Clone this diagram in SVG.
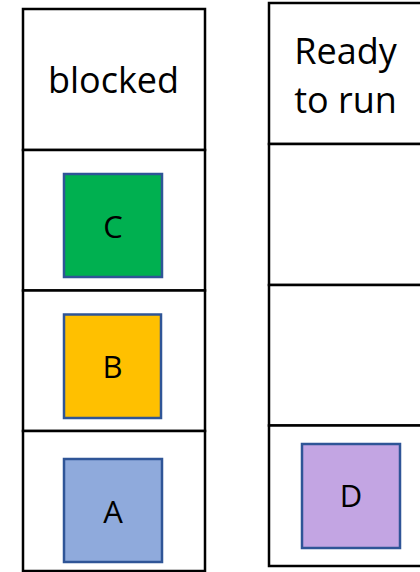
<svg xmlns="http://www.w3.org/2000/svg" width="420" height="572" viewBox="0 0 420 572">
  <style>
    .cell { fill: #ffffff; stroke: #000000; stroke-width: 2.5; }
    .box { stroke: #2F5597; stroke-width: 2.5; }
    .head { font-family: "Open Sans", "DejaVu Sans", sans-serif; font-size: 36px; fill: #000000; text-anchor: middle; }
    .lbl { font-family: "Open Sans", "DejaVu Sans", sans-serif; font-size: 31px; fill: #000000; text-anchor: middle; }
  </style>
  <rect width="420" height="572" fill="#ffffff"/>
  <g id="blocked-column">
    <rect class="cell" x="23" y="9" width="182" height="141"/>
    <rect class="cell" x="23" y="150" width="182" height="140.5"/>
    <rect class="cell" x="23" y="290.5" width="182" height="140.5"/>
    <rect class="cell" x="23" y="431" width="182" height="140"/>
    <text class="head" x="113.5" y="92.5">blocked</text>
  </g>
  <g id="ready-column">
    <rect class="cell" x="269" y="3" width="182" height="141"/>
    <rect class="cell" x="269" y="144" width="182" height="141"/>
    <rect class="cell" x="269" y="285" width="182" height="140.5"/>
    <rect class="cell" x="269" y="425.5" width="182" height="140.5"/>
    <text class="head" x="345.5" y="64">Ready</text>
    <text class="head" x="345.5" y="112.5">to run</text>
  </g>
  <g id="node-C">
    <rect class="box" x="64" y="174" width="98" height="103" fill="#00B050"/>
    <text class="lbl" x="113" y="237.5">C</text>
  </g>
  <g id="node-B">
    <rect class="box" x="64" y="314.5" width="97" height="103.5" fill="#FFC000"/>
    <text class="lbl" x="112.5" y="378">B</text>
  </g>
  <g id="node-A">
    <rect class="box" x="64" y="459" width="98" height="103" fill="#8FAADC"/>
    <text class="lbl" x="113" y="523">A</text>
  </g>
  <g id="node-D">
    <rect class="box" x="302" y="444" width="98" height="104" fill="#C3A5E3"/>
    <text class="lbl" x="351" y="507">D</text>
  </g>
  <g id="connectors"></g>
</svg>
